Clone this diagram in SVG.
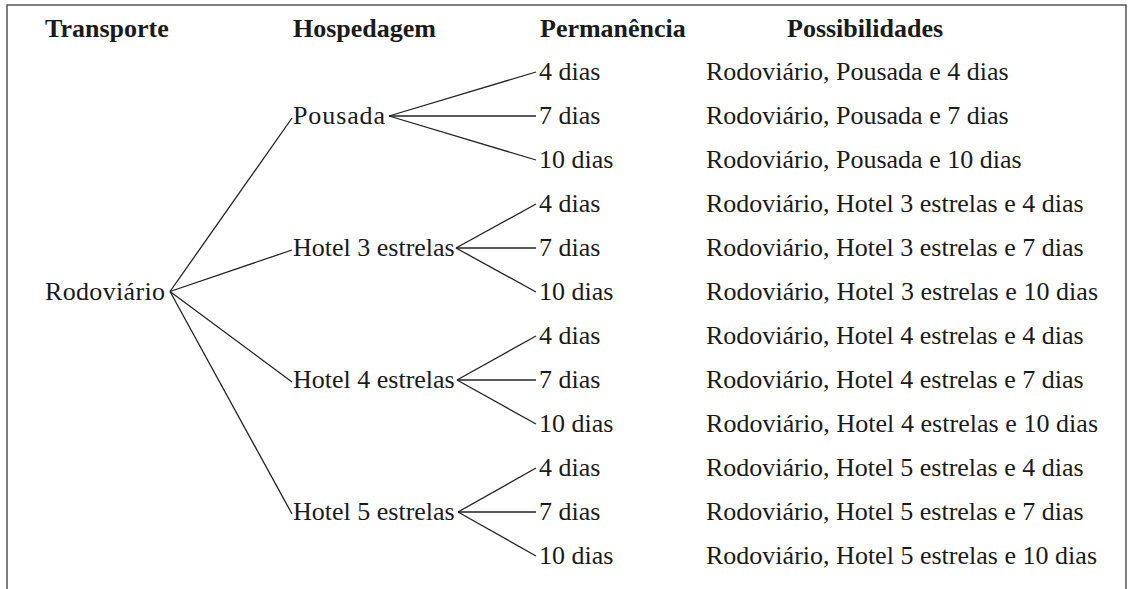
<svg xmlns="http://www.w3.org/2000/svg" width="1128" height="589" viewBox="0 0 1128 589">
<style>
text{font-family:"Liberation Serif","Times New Roman",serif;font-size:26px;fill:#1a1a1a}
.h{font-weight:bold}
.c line{stroke:#222;stroke-width:1.3}
.frame{fill:none;stroke:#555;stroke-width:1.5}
</style>
<rect width="1128" height="589" fill="#fff"/>
<path class="frame" d="M7,589 V5 H1126 V589"/>
<g id="headers">
<text class="h" x="45" y="37">Transporte</text>
<text class="h" x="293" y="37">Hospedagem</text>
<text class="h" x="540" y="37">Permanência</text>
<text class="h" x="787" y="37">Possibilidades</text>
</g>
<g class="c" id="connectors">
<line x1="170" y1="291.5" x2="292" y2="118"/>
<line x1="170" y1="291.5" x2="292" y2="250"/>
<line x1="170" y1="291.5" x2="292" y2="382"/>
<line x1="170" y1="291.5" x2="292" y2="514"/>
<line x1="389" y1="116" x2="536" y2="72"/>
<line x1="389" y1="116" x2="536" y2="116"/>
<line x1="389" y1="116" x2="536" y2="160"/>
<line x1="456" y1="248" x2="536" y2="204"/>
<line x1="456" y1="248" x2="536" y2="248"/>
<line x1="456" y1="248" x2="536" y2="292"/>
<line x1="457" y1="380" x2="536" y2="336"/>
<line x1="457" y1="380" x2="536" y2="380"/>
<line x1="457" y1="380" x2="536" y2="424"/>
<line x1="458" y1="512" x2="536" y2="468"/>
<line x1="458" y1="512" x2="536" y2="512"/>
<line x1="458" y1="512" x2="536" y2="556"/>
</g>
<g id="rodoviario"><text x="45" y="300" textLength="120">Rodoviário</text></g>
<g id="pousada"><text x="293" y="124" textLength="92">Pousada</text></g>
<g id="hotel3"><text x="293" y="256">Hotel 3 estrelas</text></g>
<g id="hotel4"><text x="293" y="388">Hotel 4 estrelas</text></g>
<g id="hotel5"><text x="293" y="520">Hotel 5 estrelas</text></g>
<g id="permanencia">
<text x="539" y="80">4 dias</text>
<text x="539" y="124">7 dias</text>
<text x="539" y="168">10 dias</text>
<text x="539" y="212">4 dias</text>
<text x="539" y="256">7 dias</text>
<text x="539" y="300">10 dias</text>
<text x="539" y="344">4 dias</text>
<text x="539" y="388">7 dias</text>
<text x="539" y="432">10 dias</text>
<text x="539" y="476">4 dias</text>
<text x="539" y="520">7 dias</text>
<text x="539" y="564">10 dias</text>
</g>
<g id="possibilidades">
<text x="706" y="80">Rodoviário, Pousada e 4 dias</text>
<text x="706" y="124">Rodoviário, Pousada e 7 dias</text>
<text x="706" y="168">Rodoviário, Pousada e 10 dias</text>
<text x="706" y="212">Rodoviário, Hotel 3 estrelas e 4 dias</text>
<text x="706" y="256">Rodoviário, Hotel 3 estrelas e 7 dias</text>
<text x="706" y="300" textLength="392">Rodoviário, Hotel 3 estrelas e 10 dias</text>
<text x="706" y="344">Rodoviário, Hotel 4 estrelas e 4 dias</text>
<text x="706" y="388">Rodoviário, Hotel 4 estrelas e 7 dias</text>
<text x="706" y="432" textLength="392">Rodoviário, Hotel 4 estrelas e 10 dias</text>
<text x="706" y="476">Rodoviário, Hotel 5 estrelas e 4 dias</text>
<text x="706" y="520">Rodoviário, Hotel 5 estrelas e 7 dias</text>
<text x="706" y="564" textLength="391">Rodoviário, Hotel 5 estrelas e 10 dias</text>
</g>
</svg>
